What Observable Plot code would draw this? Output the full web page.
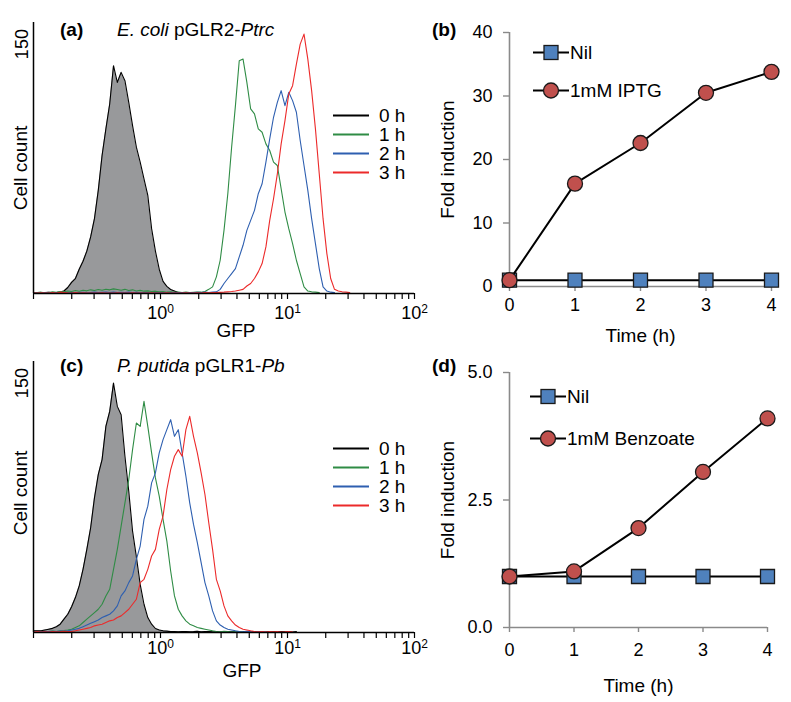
<!DOCTYPE html>
<html>
<head>
<meta charset="utf-8">
<script src="https://cdn.jsdelivr.net/npm/d3@7"></script>
<script src="https://cdn.jsdelivr.net/npm/@observablehq/plot@0.6"></script>
<style>
  html, body { margin: 0; padding: 0; background: #fff; }
  #fig { position: relative; width: 791px; height: 702px; overflow: hidden;
         font-family: "Liberation Sans", Arial, Helvetica, sans-serif; color: #000; }
  #fig svg text { font-family: "Liberation Sans", Arial, Helvetica, sans-serif; }
  .lbl { position: absolute; font-size: 19px; line-height: 19px; white-space: nowrap; }
  .row { position: absolute; height: 19px; display: flex; align-items: center;
         font-size: 19px; line-height: 19px; white-space: nowrap; }
  .row svg { display: block; flex: none; }
</style>
</head>
<body>
<div id="fig"></div>
<script>
// ---------------- DATA ----------------
// log10(GFP) bin centres shared by the flow-cytometry histograms
const gfpLogBins = [
  -1.00,-0.97,-0.94,-0.91,-0.88,-0.85,-0.82,-0.79,-0.76,-0.73,
  -0.70,-0.67,-0.64,-0.61,-0.58,-0.55,-0.52,-0.49,-0.46,-0.43,
  -0.40,-0.37,-0.34,-0.31,-0.28,-0.25,-0.22,-0.19,-0.16,-0.13,
  -0.10,-0.07,-0.04,-0.01, 0.02, 0.05, 0.08, 0.11, 0.14, 0.17,
   0.20, 0.23, 0.26, 0.29, 0.32, 0.35, 0.38, 0.41, 0.44, 0.47,
   0.50, 0.53, 0.56, 0.59, 0.62, 0.65, 0.68, 0.71, 0.74, 0.77,
   0.80, 0.83, 0.86, 0.89, 0.92, 0.95, 0.98, 1.01, 1.04, 1.07,
   1.10, 1.13, 1.16, 1.19, 1.22, 1.25, 1.28, 1.31, 1.34, 1.37,
   1.40, 1.43, 1.46, 1.49, 1.52, 1.55, 1.58
];

// (a) E. coli pGLR2-Ptrc : cell counts per bin
const ecoli0h = [
  0.4,0.6,0.3,0.5,0.7,0.4,0.6,0.9,1.5,3.6,
  6.7,9,14.6,19.4,25.5,34,45,62,83,99,
  114,137,127,133,128,115,101,88,79,69,
  59,39,25.5,14.6,7.3,4.3,2.4,1.5,0.6,0.4,
  0.3,null,null,null,null,null,null,null,null,null,
  null,null,null,null,null,null,null,null,null,null,
  null,null,null,null,null,null,null,null,null,null,
  null,null,null,null,null,null,null,null,null,null,
  null,null,null,null,null,null,null
];
const ecoli1h = [
  0.3,0.5,0.8,0.4,0.6,1.0,0.7,1.2,1.0,1.5,
  1.2,1.8,1.4,2.0,1.6,2.2,1.8,2.4,2.0,2.6,
  2.2,2.8,2.4,2.0,2.5,1.8,2.2,1.5,1.9,1.4,
  1.6,1.2,1.4,1.0,1.2,0.8,1.0,0.7,0.9,0.6,
  0.8,0.6,0.7,0.8,0.8,1.2,2.5,4,10,20,
  38,60,88,113,140,141,127,111,108,99,
  97,90,86,79,77,63,49,39,30,20,
  12,4,1.5,1,0.8,0.5,null,null,null,null,
  null,null,null,null,null,null,null
];
const ecoli2h = [
  0.2,0.3,0.2,0.4,0.3,0.2,0.4,0.3,0.5,0.4,
  0.6,0.3,0.5,0.7,0.4,0.6,0.8,0.5,0.7,0.9,
  0.6,0.8,0.5,0.7,0.6,0.8,0.5,0.7,0.4,0.6,
  0.5,0.3,0.5,0.4,0.6,0.3,0.5,0.4,0.6,0.5,
  0.4,0.6,0.5,0.7,0.5,0.8,0.6,0.9,1,2.5,
  6,9,12,15,22,29,38,44,50,60,
  66,79,93,106,115,122,113,121,116,109,
  92,77,62,45,30,15,4,1.5,0.8,0.5,
  null,null,null,null,null,null,null
];
const ecoli3h = [
  0.3,0.2,0.4,0.3,0.2,0.5,0.3,0.8,0.6,0.4,
  0.3,0.5,0.2,0.4,0.3,0.2,0.3,0.2,0.4,0.3,
  0.2,0.3,0.4,0.2,0.3,0.2,0.4,0.3,0.2,0.3,
  0.2,0.4,0.3,0.2,0.3,0.4,0.2,0.3,0.2,0.3,
  0.4,0.3,0.2,0.4,0.3,0.5,0.4,0.6,0.5,0.7,
  0.8,1,1.2,1.5,2,2.5,4.5,6,9,13,
  18,28,44,57,72,90,104,120,125,138,
  150,156,141,122,99,72,45,24,9,2.5,
  1.5,1,0.8,0.5,null,null,null
];

// (c) P. putida pGLR1-Pb : cell counts per bin
const pputida0h = [
  1,1,1,1.5,2,2.5,3.5,5,8,11,
  15.5,21,28,38,50,63,81,95,104,124,
  133,150,136,131,106,85,61,45.5,29,17,
  9,5,2.4,1.5,1,0.8,0.5,0.6,0.4,0.5,
  0.6,0.4,0.5,0.7,0.4,0.5,0.6,0.4,0.5,0.3,
  0.5,0.6,0.4,0.5,0.3,0.6,0.4,0.5,0.6,0.4,
  0.5,0.3,0.6,0.4,0.5,0.6,0.4,0.5,0.3,0.5,
  null,null,null,null,null,null,null,null,null,null,
  null,null,null,null,null,null,null
];
const pputida1h = [
  0.3,0.5,0.4,0.6,0.5,0.8,0.6,1.0,1.2,1.5,
  2,3,4,6,8,10,12,14,17,22,
  26,38,50,64,78,92,110,126,124,139,
  124,108,93,82,68,55,37,22,14,10,
  7,5,4,3,2.5,2,1.5,1,0.6,0.4,
  0.7,0.5,0.3,0.6,0.4,0.5,null,null,null,null,
  null,null,null,null,null,null,null,null,null,null,
  null,null,null,null,null,null,null,null,null,null,
  null,null,null,null,null,null,null
];
const pputida2h = [
  0.3,0.5,0.4,0.6,0.5,0.7,0.6,0.8,0.9,1.0,
  1.5,2,2.5,3.5,4.5,5.5,6.5,7.5,9,10,
  11,13,16,22,25,30,34,44,52,68,
  76,90,96,108,116,122,128,118,122,108,
  94,78,65,54,42,30,22,13,7,4.5,
  3,2,1.5,1,0.6,0.4,0.7,0.5,0.3,0.5,
  0.4,0.6,null,null,null,null,null,null,null,null,
  null,null,null,null,null,null,null,null,null,null,
  null,null,null,null,null,null,null
];
const pputida3h = [
  0.3,0.5,0.2,0.4,0.3,0.6,0.4,0.5,0.7,0.5,
  0.6,1,1.5,2,2.5,3,4,4.5,5,6,
  7,7.5,9,10,12,14,17,20,30,32,
  38,46,50,62,70,86,98,106,110,106,
  122,130,118,108,96,83,66,50,32,25,
  16,10,7,4.5,3,2,1.5,1,0.6,0.4,
  0.5,0.3,0.6,0.4,0.5,0.3,0.4,0.6,0.3,null,
  null,null,null,null,null,null,null,null,null,null,
  null,null,null,null,null,null,null
];

const histTimes  = ["0 h", "1 h", "2 h", "3 h"];
const histColors = ["#000000", "#2f8c45", "#2e5fb0", "#ec2a2a"];
const gfpTicks = [0.1,0.2,0.3,0.4,0.5,0.6,0.7,0.8,0.9,
                  1,2,3,4,5,6,7,8,9,
                  10,20,30,40,50,60,70,80,90,100];
const gfpTickLabels = new Map([[1, "10^0"], [10, "10^1"], [100, "10^2"]]);

// (b), (d) fold induction
const times       = [0, 1, 2, 3, 4];
const iptgNil     = [1, 1, 1, 1, 1];
const iptg1mM     = [1, 16.2, 22.6, 30.5, 33.8];
const benzNil     = [1, 1, 1, 1, 1];
const benz1mM     = [1.0, 1.1, 1.95, 3.05, 4.1];
const foldTicksB  = [0, 10, 20, 30, 40];
const foldTicksD  = [0, 2.5, 5];

// ---------------- DRAWING ----------------
const FONT = '"Liberation Sans", Arial, Helvetica, sans-serif';
const AXIS_GRAY = "#8a8a8a";
const SQ_FILL = "#4f81bd";
const CI_FILL = "#c0504d";
const fig = document.getElementById("fig");
const SVGNS = "http://www.w3.org/2000/svg";

function place(el, left, top) {
  el.style.position = "absolute";
  el.style.left = left + "px";
  el.style.top = top + "px";
  fig.appendChild(el);
  return el;
}

function finish(svg) {
  svg.setAttribute("font-size", "18");
  svg.setAttribute("font-family", FONT);
  svg.style.fontSize = "18px";
  svg.style.overflow = "visible";
  svg.style.background = "transparent";
  svg.style.maxWidth = "none";
  return svg;
}

function histRows(arr) {
  const rows = [];
  arr.forEach((c, i) => { if (c !== null) rows.push({gfp: Math.pow(10, gfpLogBins[i]), count: c}); });
  return rows;
}

function superscripts(svg) {
  svg.querySelectorAll("text").forEach(t => {
    const m = /^10\^(\d)$/.exec(t.textContent);
    if (!m) return;
    t.textContent = "";
    const a = document.createElementNS(SVGNS, "tspan");
    a.textContent = "10";
    const b = document.createElementNS(SVGNS, "tspan");
    b.setAttribute("dy", "-0.5em");
    b.setAttribute("font-size", "12");
    b.textContent = m[1];
    t.append(a, b);
  });
}

function histogram(series, cfg) {
  const rows = series.map(histRows);
  const marks = [
    Plot.areaY(rows[0], {x: "gfp", y: "count", fill: "#98999b"}),
    Plot.line(rows[0], {x: "gfp", y: "count", stroke: histColors[0], strokeWidth: 1.1})
  ];
  for (let k = 1; k < rows.length; k++) {
    marks.push(Plot.line(rows[k], {x: "gfp", y: "count", stroke: histColors[k], strokeWidth: 1.1}));
  }
  marks.push(
    Plot.ruleX([0.1], {stroke: "#000", strokeWidth: 1.5}),
    Plot.ruleY([0], {stroke: "#000", strokeWidth: 1.5}),
    Plot.axisX(gfpTicks, {tickSize: 6, tickPadding: cfg.tickPadding, strokeWidth: 1.2, fontSize: 18,
      tickFormat: d => gfpTickLabels.get(d) ?? "", label: null}),
    Plot.text([150], {y: d => d, frameAnchor: "left", text: d => String(d), rotate: -90,
      textAnchor: "middle", lineAnchor: "middle", dx: -11, fontSize: 18}),
    Plot.text(["Cell count"], {frameAnchor: "left", text: d => d, rotate: -90,
      textAnchor: "middle", lineAnchor: "middle", dx: -13, dy: cfg.cellDy, fontSize: 19}),
    Plot.text(["GFP"], {frameAnchor: "bottom", text: d => d, textAnchor: "middle",
      lineAnchor: "middle", dx: cfg.gfpDx, dy: cfg.gfpDy, fontSize: 19})
  );
  const svg = Plot.plot({
    width: 420, height: cfg.height,
    marginLeft: 33, marginRight: 6, marginTop: cfg.marginTop, marginBottom: cfg.marginBottom,
    style: {fontFamily: FONT, fontSize: "18px", overflow: "visible", background: "transparent", color: "#000"},
    x: {type: "log", domain: [0.1, 100], label: null},
    y: {domain: [0, 163], axis: null, label: null},
    marks
  });
  superscripts(svg);
  return finish(svg);
}

function foldPlot(cfg) {
  const nil = times.map((t, i) => ({t, v: cfg.nil[i]}));
  const trt = times.map((t, i) => ({t, v: cfg.trt[i]}));
  return finish(Plot.plot({
    width: 371, height: cfg.height,
    marginLeft: 89, marginRight: cfg.marginRight, marginTop: cfg.marginTop, marginBottom: cfg.marginBottom,
    style: {fontFamily: FONT, fontSize: "18px", overflow: "visible", background: "transparent", color: "#000"},
    x: {domain: [0, 4], label: null},
    y: {domain: cfg.yDomain, label: null},
    marks: [
      Plot.ruleX([0], {stroke: AXIS_GRAY, strokeWidth: 1.6}),
      Plot.ruleY([0], {stroke: AXIS_GRAY, strokeWidth: 1.6}),
      Plot.axisY(cfg.yTicks, {tickSize: 6, tickPadding: 11, stroke: AXIS_GRAY, fill: "#000",
        strokeWidth: 1.4, fontSize: 18, tickFormat: cfg.fmt, label: null}),
      Plot.axisX(times, {tickSize: 5, tickPadding: cfg.xTickPadding, stroke: AXIS_GRAY, fill: "#000",
        strokeWidth: 1.4, fontSize: 18, tickFormat: d => String(d), label: null}),
      Plot.line(nil, {x: "t", y: "v", stroke: "#000", strokeWidth: 2}),
      Plot.dot(nil, {x: "t", y: "v", symbol: "square", r: 7.9, fill: SQ_FILL, stroke: "#1a1a1a", strokeWidth: 1.3}),
      Plot.line(trt, {x: "t", y: "v", stroke: "#000", strokeWidth: 2}),
      Plot.dot(trt, {x: "t", y: "v", symbol: "circle", r: 7.5, fill: CI_FILL, stroke: "#1a1a1a", strokeWidth: 1.3}),
      Plot.text(["Fold induction"], {frameAnchor: "left", text: d => d, rotate: -90,
        textAnchor: "middle", lineAnchor: "middle", dx: -62, fontSize: 19}),
      Plot.text(["Time (h)"], {frameAnchor: "bottom", text: d => d, textAnchor: "middle",
        lineAnchor: "middle", dy: cfg.timeDy, fontSize: 19})
    ]
  }));
}

// Panels
place(histogram([ecoli0h, ecoli1h, ecoli2h, ecoli3h],
  {height: 345, marginTop: 22, marginBottom: 52, tickPadding: 7, gfpDx: 12, gfpDy: 37, cellDy: 10}), 0, 0);
place(histogram([pputida0h, pputida1h, pputida2h, pputida3h],
  {height: 357, marginTop: 16, marginBottom: 70, tickPadding: 3, gfpDx: 18, gfpDy: 38, cellDy: -4}), 0, 345);
place(foldPlot({nil: iptgNil, trt: iptg1mM, yDomain: [0, 40], yTicks: foldTicksB, fmt: d => String(d),
  height: 345, marginTop: 32, marginBottom: 59, marginRight: 20, xTickPadding: 7, timeDy: 49}), 420, 0);
place(foldPlot({nil: benzNil, trt: benz1mM, yDomain: [0, 5], yTicks: foldTicksD, fmt: d => d.toFixed(1),
  height: 357, marginTop: 27, marginBottom: 75, marginRight: 24, xTickPadding: 11, timeDy: 58}), 420, 345);

// Panel labels and titles
function label(html, left, baseline, bold) {
  const d = document.createElement("div");
  d.className = "lbl";
  d.innerHTML = html;
  if (bold) d.style.fontWeight = "bold";
  place(d, left, baseline - 16);
}
label("(a)", 60, 36, true);
label("<i>E. coli</i> pGLR2-<i>Ptrc</i>", 117, 36, false);
label("(c)", 60, 372, true);
label("<i>P. putida</i> pGLR1-<i>Pb</i>", 117, 372, false);
label("(b)", 432, 36, true);
label("(d)", 432, 372, true);

// Histogram legends
function histLegend(left, firstCenter) {
  histTimes.forEach((name, k) => {
    const r = document.createElement("div");
    r.className = "row";
    r.innerHTML = `<svg width="46" height="19"><line x1="0" x2="36" y1="9.5" y2="9.5" stroke="${histColors[k]}" stroke-width="2"/></svg><span>${name}</span>`;
    place(r, left, firstCenter + k * 19 - 9.5);
  });
}
histLegend(333, 115);
histLegend(333, 448);

// Fold-induction legends
function foldLegend(left, centers, names) {
  const syms = [
    `<rect x="11" y="2.5" width="14" height="14" fill="${SQ_FILL}" stroke="#1a1a1a" stroke-width="1.3"/>`,
    `<circle cx="18" cy="9.5" r="7.5" fill="${CI_FILL}" stroke="#1a1a1a" stroke-width="1.3"/>`
  ];
  names.forEach((name, k) => {
    const r = document.createElement("div");
    r.className = "row";
    r.innerHTML = `<svg width="36" height="19"><line x1="0" x2="36" y1="9.5" y2="9.5" stroke="#000" stroke-width="2"/>${syms[k]}</svg><span style="margin-left:1px">${name}</span>`;
    place(r, left, centers[k] - 9.5);
  });
}
foldLegend(533, [52, 90], ["Nil", "1mM IPTG"]);
foldLegend(530, [396, 438], ["Nil", "1mM Benzoate"]);
</script>
</body>
</html>
